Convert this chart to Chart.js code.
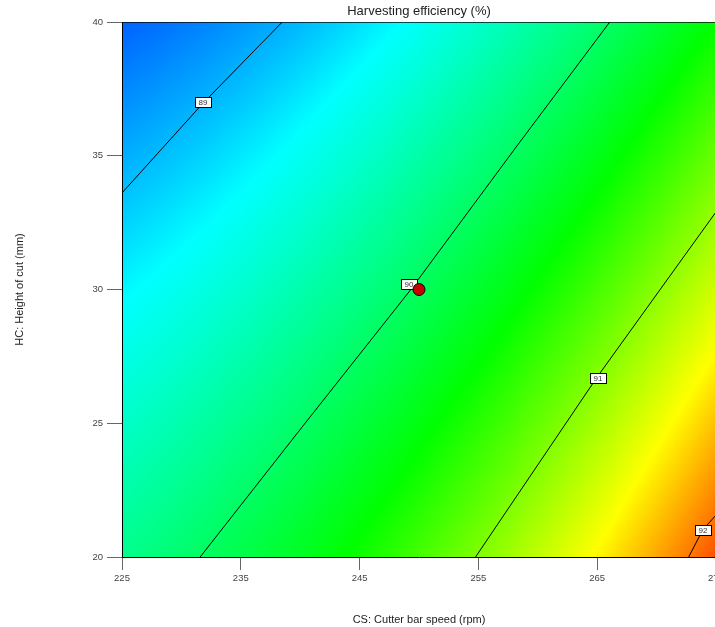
<!DOCTYPE html>
<html>
<head>
<meta charset="utf-8">
<script src="https://cdn.jsdelivr.net/npm/chart.js@4"></script>
<style>
  html, body { margin: 0; padding: 0; background: #fff; overflow: hidden; }
  #wrap { width: 760px; height: 627px; }
</style>
</head>
<body>
<div id="wrap"><canvas id="contourChart" width="760" height="627"></canvas></div>
<script>
// axes
const csTicks = [225, 235, 245, 255, 265, 275];
const hcTicks = [20, 25, 30, 35, 40];
const chartTitle = 'Harvesting efficiency (%)';

// contour lines (CS in rpm, HC in mm)
const contour89CS = [225, 231.83, 238.49];
const contour89HC = [33.61, 36.97, 40];
const contour90CS = [231.58, 240.43, 249.28, 258.1, 266.06];
const contour90HC = [20, 25.01, 29.98, 35.28, 40];
const contour91CS = [254.76, 265.0, 275];
const contour91HC = [20.0, 26.73, 32.9];
const contour92CS = [272.7, 273.88, 275];
const contour92HC = [20, 21.01, 21.57];

// contour labels
const labelLevels = [89, 90, 91, 92];
const labelCS = [231.8, 249.2, 265.05, 273.9];
const labelHC = [37.0, 30.2, 26.7, 21.0];

// design centre point
const designCS = [250];
const designHC = [30];

// fitted quadratic in coded units: b0, CS, HC, CS*HC, CS^2, HC^2
const modelCoef = [90.03, 1.03, -0.70, -0.147, 0.25, 0.001];
const csCenter = 250, csHalf = 25;
const hcCenter = 30, hcHalf = 10;

// colour ramp levels (efficiency %)
const rampLevels = [88.33, 89.28, 90.45, 91.5, 92.45];
const rampColors = [[0, 0, 255], [0, 255, 255], [0, 255, 0], [255, 255, 0], [255, 0, 0]];

function efficiency(cs, hc) {
    const a = (cs - csCenter) / csHalf;
    const b = (hc - hcCenter) / hcHalf;
    const c = modelCoef;
    return c[0] + c[1] * a + c[2] * b + c[3] * a * b + c[4] * a * a + c[5] * b * b;
}

function rampColor(v) {
    if (v <= rampLevels[0]) return 'rgb(' + rampColors[0].join(',') + ')';
    for (let i = 1; i < rampLevels.length; i++) {
        if (v <= rampLevels[i]) {
            const t = (v - rampLevels[i - 1]) / (rampLevels[i] - rampLevels[i - 1]);
            const c0 = rampColors[i - 1], c1 = rampColors[i];
            const r = Math.round(c0[0] + (c1[0] - c0[0]) * t);
            const g = Math.round(c0[1] + (c1[1] - c0[1]) * t);
            const bl = Math.round(c0[2] + (c1[2] - c0[2]) * t);
            return 'rgb(' + r + ',' + g + ',' + bl + ')';
        }
    }
    return 'rgb(' + rampColors[rampColors.length - 1].join(',') + ')';
}

function toPoints(xs, ys) {
    return xs.map((v, i) => ({ x: v, y: ys[i] }));
}

const heatmapPlugin = {
    id: 'heatmap',
    beforeDraw(chart) {
        const { ctx, chartArea: area, scales: { x, y } } = chart;
        ctx.save();
        ctx.beginPath();
        ctx.rect(area.left, area.top, area.right - area.left, area.bottom - area.top);
        ctx.clip();
        const nx = 200, ny = 200;
        const dCS = (csTicks[csTicks.length - 1] - csTicks[0]) / nx;
        const dHC = (hcTicks[hcTicks.length - 1] - hcTicks[0]) / ny;
        for (let i = 0; i < nx; i++) {
            const cs = csTicks[0] + i * dCS;
            const x0 = Math.floor(x.getPixelForValue(cs));
            const x1 = Math.ceil(x.getPixelForValue(cs + dCS));
            for (let j = 0; j < ny; j++) {
                const hc = hcTicks[0] + j * dHC;
                const y0 = Math.floor(y.getPixelForValue(hc + dHC));
                const y1 = Math.ceil(y.getPixelForValue(hc));
                ctx.fillStyle = rampColor(efficiency(cs + dCS / 2, hc + dHC / 2));
                ctx.fillRect(x0, y0, x1 - x0, y1 - y0);
            }
        }
        ctx.restore();

        // title centred over the plot area
        ctx.save();
        ctx.font = '13px "Liberation Sans", Arial, sans-serif';
        ctx.fillStyle = '#222';
        ctx.textAlign = 'center';
        ctx.textBaseline = 'middle';
        ctx.fillText(chartTitle, (area.left + area.right) / 2, 11);
        ctx.restore();
    },
    beforeDatasetsDraw(chart) {
        const { ctx, chartArea: area } = chart;
        ctx.save();
        ctx.strokeStyle = 'rgba(0,0,0,0.7)';
        ctx.lineWidth = 1;
        ctx.beginPath();
        ctx.moveTo(area.left, area.top + 0.5);
        ctx.lineTo(area.right, area.top + 0.5);
        ctx.stroke();
        ctx.restore();
    },
    afterDatasetDraw(chart, args) {
        // labels go on the contours, under the design point
        if (args.index !== 1) return;
        const { ctx, scales: { x, y } } = chart;
        ctx.save();
        ctx.font = '8px "Liberation Sans", Arial, sans-serif';
        ctx.textAlign = 'center';
        ctx.textBaseline = 'middle';
        labelLevels.forEach((lv, i) => {
            const px = Math.round(x.getPixelForValue(labelCS[i]));
            const py = Math.round(y.getPixelForValue(labelHC[i]));
            ctx.fillStyle = '#fff';
            ctx.fillRect(px - 8, py - 5, 16, 10);
            ctx.strokeStyle = '#000';
            ctx.lineWidth = 1;
            ctx.strokeRect(px - 8 + 0.5, py - 5 + 0.5, 16, 10);
            ctx.fillStyle = '#333';
            ctx.fillText(String(lv), px, py + 1);
        });
        ctx.restore();
    }
};

Chart.defaults.font.family = '"Liberation Sans", Arial, sans-serif';

const lineStyle = {
    showLine: true,
    pointRadius: 0,
    borderColor: '#000',
    borderWidth: 1,
    fill: false,
    tension: 0
};

const ctx = document.getElementById('contourChart').getContext('2d');
const contourChart = new Chart(ctx, {
    type: 'scatter',
    data: {
        datasets: [
            {
                label: 'Design point',
                data: toPoints(designCS, designHC),
                pointRadius: 6,
                backgroundColor: '#c80000',
                borderColor: '#000',
                borderWidth: 1
            },
            { label: '89', data: toPoints(contour89CS, contour89HC), ...lineStyle },
            { label: '90', data: toPoints(contour90CS, contour90HC), ...lineStyle },
            { label: '91', data: toPoints(contour91CS, contour91HC), ...lineStyle },
            { label: '92', data: toPoints(contour92CS, contour92HC), ...lineStyle }
        ]
    },
    options: {
        responsive: false,
        animation: false,
        events: [],
        layout: { padding: { left: 0, right: 44, top: 22, bottom: 0 } },
        plugins: {
            legend: { display: false },
            tooltip: { enabled: false },
            title: { display: false }
        },
        scales: {
            x: {
                type: 'linear',
                min: csTicks[0],
                max: csTicks[csTicks.length - 1],
                afterBuildTicks: s => { s.ticks = csTicks.map(v => ({ value: v })); },
                afterFit: s => { s.height = 70; },
                ticks: { color: '#444', font: { size: 9.5 }, padding: 3, maxRotation: 0, autoSkip: false },
                grid: { drawOnChartArea: false, drawTicks: true, tickLength: 13, color: '#666' },
                border: { display: true, color: '#000', width: 1 },
                title: {
                    display: true,
                    text: 'CS: Cutter bar speed (rpm)',
                    color: '#222',
                    font: { size: 11 },
                    padding: { top: 0, bottom: 0 }
                }
            },
            y: {
                type: 'linear',
                min: hcTicks[0],
                max: hcTicks[hcTicks.length - 1],
                afterBuildTicks: s => { s.ticks = hcTicks.map(v => ({ value: v })); },
                afterFit: s => { s.width = 122; },
                ticks: { color: '#444', font: { size: 9.5 }, padding: 4, autoSkip: false },
                grid: { drawOnChartArea: false, drawTicks: true, tickLength: 15, color: '#666' },
                border: { display: true, color: '#000', width: 1 },
                title: {
                    display: true,
                    text: 'HC: Height of cut (mm)',
                    color: '#222',
                    font: { size: 11 },
                    padding: { top: 13, bottom: 0 }
                }
            }
        }
    },
    plugins: [heatmapPlugin]
});
</script>
</body>
</html>
